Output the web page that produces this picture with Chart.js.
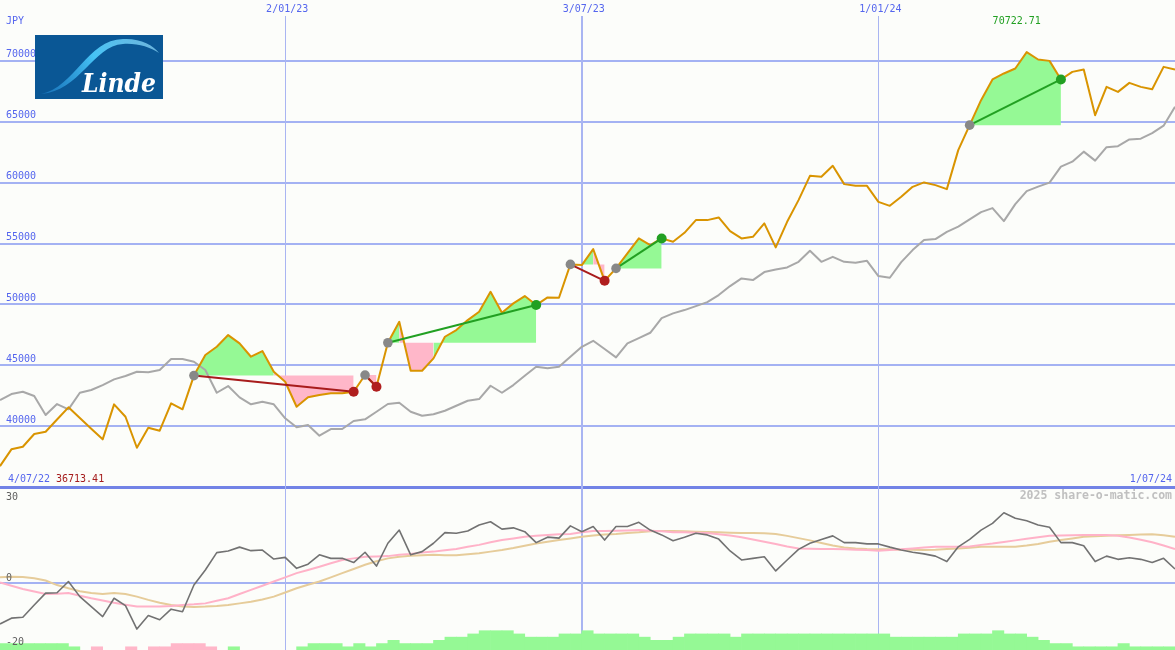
<!DOCTYPE html>
<html>
<head>
<meta charset="utf-8">
<script src="https://cdn.jsdelivr.net/npm/chart.js@4.4.1/dist/chart.umd.min.js"></script>
<style>
  html, body { margin: 0; padding: 0; background: #fcfdfa; }
  canvas { display: block; }
</style>
</head>
<body>
<canvas id="chart" width="1175" height="650"></canvas>
<script>
// weekly closes in JPY, 11/07/22 .. 1/07/24
const price = [
  36713.41, 38095, 38309, 39351, 39540, 40540, 41543, 40665, 39786, 38916,
  41790, 40772, 38226, 39869, 39622, 41872, 41380, 44150, 45837, 46518,
  47479, 46800, 45700, 46166, 44466, 43645, 41592, 42364, 42553, 42693,
  42693, 42824, 44195, 43235, 46847, 48571, 44548, 44548, 45566, 47340,
  47890, 48711, 49392, 51034, 49310, 50082, 50681, 49942, 50574, 50541,
  53284, 53226, 54540, 51937, 52955, 54187, 55418, 54868, 55418, 55140,
  55879, 56921, 56921, 57142, 56018, 55418, 55550, 56650, 54680, 56780,
  58560, 60558, 60476, 61379, 59876, 59737, 59737, 58423, 58094, 58834,
  59655, 60016, 59794, 59466, 62668, 64720, 66773, 68472, 68965, 69375,
  70722.71, 70115, 70000, 68472, 69097, 69294, 65541, 67865, 67454, 68193,
  67865, 67676, 69507, 69294
];
const average = [
  42143, 42635, 42824, 42471, 40911, 41814, 41379, 42742, 42964, 43374,
  43842, 44113, 44466, 44417, 44606, 45509, 45509, 45287, 44606, 42742,
  43292, 42364, 41790, 42003, 41790, 40640, 39901, 40090, 39212, 39762,
  39762, 40419, 40558, 41182, 41814, 41921, 41182, 40854, 40969, 41264,
  41675, 42085, 42225, 43317, 42742, 43374, 44138, 44877, 44745, 44877,
  45698, 46518, 47011, 46330, 45648, 46798, 47233, 47668, 48875, 49261,
  49532, 49860, 50189, 50763, 51502, 52134, 51995, 52652, 52857, 53037,
  53497, 54400, 53497, 53908, 53497, 53415, 53579, 52323, 52184, 53473,
  54458, 55279, 55361, 55960, 56387, 56978, 57578, 57906, 56839, 58234,
  59302, 59671, 60000, 61313, 61724, 62545, 61806, 62914, 62996, 63546,
  63612, 64063, 64679, 66223
];
const momentum = [
  -12.6, -10.8, -10.5, -6.7, -3.0, -2.9, 0.6, -4.1, -7.2, -10.3,
  -4.6, -6.9, -14.2, -10.0, -11.3, -8.0, -8.8, -0.5, 4.2, 9.6,
  10.1, 11.3, 10.2, 10.4, 7.6, 8.1, 4.7, 6.0, 8.9, 7.8,
  7.8, 6.5, 9.7, 5.4, 12.5, 16.6, 8.9, 9.9, 12.5, 15.8,
  15.6, 16.3, 18.2, 19.2, 16.9, 17.3, 16.1, 12.7, 14.4, 14.1,
  17.9, 16.1, 17.7, 13.5, 17.7, 17.7, 19.0, 16.6, 15.1, 13.3,
  14.4, 15.6, 15.1, 13.8, 10.1, 7.3, 7.8, 8.3, 3.9, 7.3,
  10.6, 12.5, 13.7, 14.8, 12.7, 12.7, 12.3, 12.3, 11.3, 10.4,
  9.7, 9.2, 8.5, 6.8, 11.4, 13.7, 16.6, 18.7, 22.0, 20.3,
  19.5, 18.2, 17.5, 12.7, 12.7, 11.7, 6.8, 8.5, 7.5, 8.0,
  7.5, 6.5, 7.8, 4.5
];
const signalFast = [
  0.3, -0.7, -1.7, -2.5, -3.3, -3.2, -3.0, -3.8, -4.6, -5.3,
  -6.0, -6.6, -7.2, -7.2, -7.2, -7.0, -6.7, -6.5, -6.2, -5.4,
  -4.6, -3.3, -2.0, -0.7, 0.6, 1.9, 3.2, 4.2, 5.2, 6.3,
  7.3, 7.8, 8.3, 8.4, 8.5, 8.9, 9.2, 9.6, 9.9, 10.3,
  10.7, 11.4, 12.0, 12.8, 13.5, 14.0, 14.5, 14.8, 15.1, 15.3,
  15.4, 15.9, 16.3, 16.3, 16.4, 16.5, 16.6, 16.4, 16.2, 15.9,
  15.9, 15.8, 15.7, 15.3, 14.9, 14.4, 13.7, 13.0, 12.3, 11.5,
  10.9, 10.8, 10.7, 10.7, 10.6, 10.5, 10.4, 10.2, 10.4, 10.6,
  10.9, 11.2, 11.4, 11.4, 11.4, 11.5, 12.0, 12.4, 12.9, 13.4,
  13.9, 14.4, 14.8, 14.9, 15.0, 15.1, 15.1, 15.1, 14.8, 14.3,
  13.6, 12.8, 11.8, 10.7
];
const signalSlow = [
  1.9, 2.1, 2.0, 1.6, 0.9, -0.5, -1.5, -2.4, -3.0, -3.3,
  -3.0, -3.3, -4.1, -5.1, -6.0, -6.7, -7.2, -7.3, -7.2, -7.0,
  -6.7, -6.2, -5.7, -5.0, -4.1, -2.8, -1.5, -0.4, 0.6, 1.9,
  3.2, 4.5, 5.8, 6.9, 7.8, 8.3, 8.6, 8.8, 8.9, 8.8,
  8.8, 9.1, 9.4, 9.9, 10.4, 11.0, 11.7, 12.4, 13.0, 13.5,
  14.0, 14.5, 14.9, 15.2, 15.4, 15.7, 15.9, 16.2, 16.3, 16.3,
  16.2, 16.1, 16.0, 15.9, 15.8, 15.7, 15.7, 15.6, 15.4, 14.8,
  14.1, 13.4, 12.6, 11.8, 11.2, 10.9, 10.7, 10.6, 10.6, 10.5,
  10.5, 10.4, 10.5, 10.7, 10.9, 11.1, 11.4, 11.4, 11.4, 11.4,
  11.8, 12.3, 13.0, 13.5, 14.0, 14.5, 14.7, 14.8, 15.0, 15.1,
  15.2, 15.3, 15.0, 14.5
];
// strength bars between consecutive weeks (+ green, - pink)
const histogram = [
  2, 2, 2, 2, 2, 2, 1, 0, -1, 0, 0, -1, 0, -1, -1, -2, -2, -2, -1, 0,
  1, 0, 0, 0, 0, 0, 1, 2, 2, 2, 1, 2, 1, 2, 3, 2, 2, 2, 3, 4,
  4, 5, 6, 6, 6, 5, 4, 4, 4, 5, 5, 6, 5, 5, 5, 5, 4, 3, 3, 4,
  5, 5, 5, 5, 4, 5, 5, 5, 5, 5, 5, 5, 5, 5, 5, 5, 5, 5, 4, 4,
  4, 4, 4, 4, 5, 5, 5, 6, 5, 5, 4, 3, 2, 2, 1, 1, 1, 1, 2, 1,
  1, 1, 1
];

const tradeEntries = [17, 32, 34, 50, 54, 85];
const tradeExits = [31, 33, 47, 53, 58, 93];

const dateTicks = [25, 51, 77];
const dateLabels = ['2/01/23', '3/07/23', '1/01/24'];
const priceTicks = [40000, 45000, 50000, 55000, 60000, 65000, 70000];
const lowerTicks = [30, 0, -20];
const startLabel = '4/07/22';
const endLabel = '1/07/24';

const Y2_MIN = -20.7;
const blueText = '#5566ee';
const gridBlue = '#a4b2f3';
const fillGreen = '#95f995';
const fillPink = '#ffb7c9';
const font = '10px "DejaVu Sans Mono"';

const pts = arr => arr.map((v, i) => ({x: i, y: v}));
const maxIdx = price.indexOf(Math.max(...price));
const minIdx = price.indexOf(Math.min(...price));

const tradeFills = tradeEntries.map((e, k) => {
  const level = price[e];
  return {
    type: 'line',
    data: price.slice(e, tradeExits[k] + 1).map((v, i) => ({x: e + i, y: v})),
    yAxisID: 'y',
    borderWidth: 0,
    borderColor: 'transparent',
    pointRadius: 0,
    backgroundColor: fillGreen,
    fill: {target: {value: level}},
    segment: {
      backgroundColor: c => c.p1.parsed.y >= level ? fillGreen : fillPink
    },
    order: 20
  };
});

const tradeLines = tradeEntries.map((e, k) => ({
  type: 'line',
  data: [{x: e, y: price[e]}, {x: tradeExits[k], y: price[tradeExits[k]]}],
  yAxisID: 'y',
  borderColor: price[tradeExits[k]] >= price[e] ? '#22a022' : '#a81c1c',
  borderWidth: 2,
  pointRadius: 0,
  order: 3
}));

const textPlugin = {
  id: 'texts',
  beforeDatasetsDraw(chart) {
    const {ctx, chartArea, scales: {x}} = chart;
    ctx.save();
    ctx.strokeStyle = '#a9b5f2';
    dateTicks.forEach((j, k) => {
      const px = Math.round(x.getPixelForValue(j)) + (k === 1 ? 0 : 0.5);
      ctx.lineWidth = k === 1 ? 2 : 1;
      ctx.beginPath();
      ctx.moveTo(px, 16);
      ctx.lineTo(px, chartArea.bottom);
      ctx.stroke();
    });
    ctx.restore();
  },
  afterDraw(chart) {
    const {ctx, scales: {x, y, y2}} = chart;
    ctx.save();
    ctx.font = font;
    ctx.textBaseline = 'middle';

    ctx.fillStyle = blueText;
    ctx.textAlign = 'center';
    dateTicks.forEach((j, k) => ctx.fillText(dateLabels[k], x.getPixelForValue(j) + 2, 9));

    ctx.textAlign = 'left';
    priceTicks.forEach(v => ctx.fillText(String(v), 6, y.getPixelForValue(v) - 6));
    ctx.fillText('JPY', 6, 21);
    ctx.fillText(startLabel, 8, 479);
    ctx.fillStyle = '#a51c1c';
    ctx.fillText(price[minIdx].toFixed(2), 56, 479);

    ctx.fillStyle = blueText;
    ctx.textAlign = 'right';
    ctx.fillText(endLabel, 1172, 479);

    ctx.fillStyle = '#22a022';
    ctx.textAlign = 'center';
    ctx.fillText(price[maxIdx].toFixed(2), x.getPixelForValue(maxIdx) - 10, 21);

    ctx.fillStyle = '#606060';
    ctx.textAlign = 'left';
    ctx.fillText(String(lowerTicks[0]), 6, y2.getPixelForValue(lowerTicks[0]) + 10);
    ctx.fillText(String(lowerTicks[1]), 6, y2.getPixelForValue(lowerTicks[1]) - 5);
    ctx.fillText(String(lowerTicks[2]), 6, y2.getPixelForValue(lowerTicks[2]) - 5);

    ctx.font = 'bold 11.5px "DejaVu Sans Mono"';
    ctx.fillStyle = '#c0c0c0';
    ctx.textAlign = 'right';
    ctx.fillText('2025 share-o-matic.com', 1172, 496);

    drawLogo(ctx);
    ctx.restore();
  }
};

function drawLogo(ctx) {
  const lx = 35, ly = 35, lw = 128, lh = 64;
  ctx.save();
  ctx.fillStyle = '#0a5795';
  ctx.fillRect(lx, ly, lw, lh);
  ctx.beginPath();
  ctx.rect(lx, ly, lw, lh);
  ctx.clip();
  const g = ctx.createLinearGradient(lx, ly + lh, lx + lw, ly);
  g.addColorStop(0, 'rgba(30,130,210,0.5)');
  g.addColorStop(0.5, 'rgba(70,195,245,1)');
  g.addColorStop(1, 'rgba(150,215,245,0.7)');
  ctx.fillStyle = g;
  ctx.beginPath();
  ctx.moveTo(lx + 6, ly + 59);
  ctx.bezierCurveTo(lx + 40, ly + 52, lx + 52, ly + 5, lx + 88, ly + 4);
  ctx.bezierCurveTo(lx + 105, ly + 3, lx + 118, ly + 10, lx + 124, ly + 18);
  ctx.bezierCurveTo(lx + 115, ly + 12, lx + 102, ly + 8, lx + 88, ly + 9);
  ctx.bezierCurveTo(lx + 58, ly + 11, lx + 45, ly + 56, lx + 6, ly + 59);
  ctx.fill();
  ctx.fillStyle = '#ffffff';
  ctx.font = 'italic bold 26px "DejaVu Serif"';
  ctx.textBaseline = 'alphabetic';
  ctx.textAlign = 'left';
  const w = ctx.measureText('Linde').width;
  ctx.translate(lx + 47, ly + 57);
  ctx.scale(74 / w, 1);
  ctx.fillText('Linde', 0, 0);
  ctx.restore();
}

new Chart(document.getElementById('chart'), {
  type: 'line',
  data: {
    datasets: [
      {
        data: tradeEntries.map(j => ({x: j, y: price[j]})),
        yAxisID: 'y',
        showLine: false,
        pointRadius: 4.8,
        pointBorderWidth: 0,
        pointBackgroundColor: '#888888',
        order: 2
      },
      {
        data: tradeExits.map(j => ({x: j, y: price[j]})),
        yAxisID: 'y',
        showLine: false,
        pointRadius: 5,
        pointBorderWidth: 0,
        pointBackgroundColor: tradeExits.map((j, k) => price[j] >= price[tradeEntries[k]] ? '#22a022' : '#b01e1e'),
        order: 1
      },
      ...tradeLines,
      {
        data: pts(price),
        yAxisID: 'y',
        borderColor: '#d99400',
        borderWidth: 2,
        borderJoinStyle: 'round',
        pointRadius: 0,
        order: 4
      },
      {
        data: pts(average),
        yAxisID: 'y',
        borderColor: '#a8a8a8',
        borderWidth: 2,
        borderJoinStyle: 'round',
        pointRadius: 0,
        order: 5
      },
      ...tradeFills,
      {
        data: pts(momentum),
        yAxisID: 'y2',
        borderColor: '#727272',
        borderWidth: 1.6,
        borderJoinStyle: 'round',
        pointRadius: 0,
        order: 6
      },
      {
        data: pts(signalFast),
        yAxisID: 'y2',
        borderColor: '#ffb2c8',
        borderWidth: 2,
        pointRadius: 0,
        order: 7
      },
      {
        data: pts(signalSlow),
        yAxisID: 'y2',
        borderColor: '#e6cc9a',
        borderWidth: 2,
        pointRadius: 0,
        order: 8
      },
      {
        type: 'bar',
        data: histogram.map((h, i) => ({x: i + 0.5, y: h === 0 ? null : Y2_MIN + Math.abs(h)})),
        yAxisID: 'y2',
        base: Y2_MIN,
        backgroundColor: histogram.map(h => h < 0 ? fillPink : fillGreen),
        borderWidth: 0,
        barPercentage: 1,
        categoryPercentage: 1,
        order: 9
      }
    ]
  },
  options: {
    responsive: false,
    animation: false,
    layout: { padding: 0, autoPadding: false },
    plugins: {
      legend: { display: false },
      tooltip: { enabled: false }
    },
    events: [],
    scales: {
      x: {
        type: 'linear',
        min: 0,
        max: price.length - 1,
        offset: false,
        display: false
      },
      y2: {
        type: 'linear',
        position: 'left',
        stack: 'panels',
        stackWeight: 163,
        min: Y2_MIN,
        max: 30,
        afterBuildTicks: axis => { axis.ticks = [{value: 0}]; },
        ticks: { display: false },
        border: { display: false },
        grid: { drawTicks: false, color: gridBlue, lineWidth: 2 }
      },
      y: {
        type: 'linear',
        position: 'left',
        stack: 'panels',
        stackWeight: 487,
        min: 35000,
        max: 75000,
        ticks: { display: false, stepSize: 5000 },
        border: { display: false },
        grid: {
          drawTicks: false,
          color: c => c.tick.value === 35000 ? '#7283e6' : (c.tick.value === 75000 ? 'transparent' : gridBlue),
          lineWidth: c => c.tick.value === 35000 ? 3 : 2
        }
      }
    }
  },
  plugins: [textPlugin]
});
</script>
</body>
</html>
